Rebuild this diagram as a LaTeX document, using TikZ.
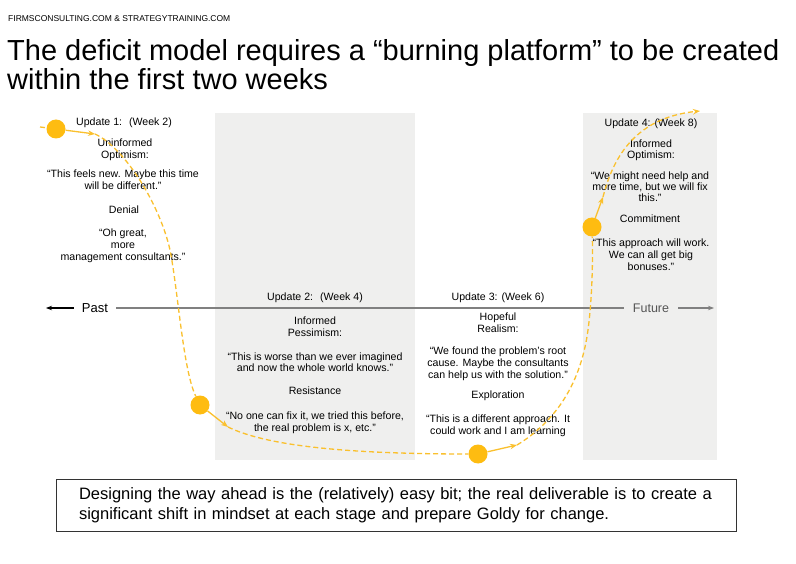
\documentclass[tikz,border=0pt]{standalone}
\usepackage{fontspec}
\setmainfont{Liberation Sans}
\usetikzlibrary{arrows.meta}
\definecolor{panel}{RGB}{239,239,238}
\definecolor{gold}{RGB}{254,188,17}
\definecolor{goldline}{RGB}{250,192,45}
\definecolor{axisgray}{RGB}{128,128,128}
\definecolor{futuregray}{RGB}{85,85,85}
\begin{document}
\begin{tikzpicture}[x=1pt,y=-1pt,
  body/.style={font=\fontsize{10.6}{12}\selectfont, align=center, anchor=base, inner sep=0pt},
  stage/.style={circle, fill=gold, minimum size=19pt, inner sep=0pt},
  dashseg/.style={goldline, line width=1.3pt, dash pattern=on 5pt off 3pt},
  arrowseg/.style={goldline, line width=1.3pt, -{Stealth[length=7pt,width=5.5pt]}},
  dasharrow/.style={dashseg, -{Stealth[length=7pt,width=5.5pt]}},
  axisline/.style={axisgray, line width=1.1pt},
  axisarrow/.style={axisline, -{Stealth[length=6pt,width=4.5pt]}},
  panelbox/.style={fill=panel, draw=none}]
\useasboundingbox (0,0) rectangle (796,564);
\fill[white] (0,0) rectangle (796,564);

% header and title
\node[anchor=base west, inner sep=0pt, font=\fontsize{8.5}{10}\selectfont] (hdr) at (8,22) {FIRMSCONSULTING.COM \& STRATEGYTRAINING.COM};
\node[anchor=base west, inner sep=0pt, align=left, font=\fontsize{29}{29}\selectfont] (title) at (7,90) {The deficit model requires a “burning platform” to be created\\within the first two weeks};

% panels
\fill[panelbox] (215,113) rectangle (415,460);
\fill[panelbox] (583,113) rectangle (717,460);

% axis
\node[inner sep=8pt, font=\fontsize{13}{13}\selectfont] (past) at (95,308) {Past};
\node[inner sep=9pt, font=\fontsize{12.5}{13}\selectfont, text=futuregray] (future) at (651,308) {Future};
\coordinate (leftend) at (46,308);
\coordinate (rightend) at (714,308);
\draw[axisarrow, black] (past) -- (leftend);
\draw[axisline] (past) -- (future);
\draw[axisarrow] (future) -- (rightend);

% Update 1 text
\node[body] (u1t) at (124,126) {Update 1:~ (Week 2)};
\node[body] (u1a) at (125,159) {Uninformed\\Optimism:};
\node[body] (u1b) at (123,190) {“This feels new. Maybe this time\\will be different.”};
\node[body] (u1c) at (124,214) {Denial};
\node[body] (u1d) at (123,261) {“Oh great,\\more\\management consultants.”};

% Update 2 text
\node[body] (u2t) at (315,301) {Update 2:~ (Week 4)};
\node[body] (u2a) at (315,337) {Informed\\Pessimism:};
\node[body] (u2b) at (315,372) {“This is worse than we ever imagined\\and now the whole world knows.”};
\node[body] (u2c) at (315,395) {Resistance};
\node[body] (u2d) at (315,431) {“No one can fix it, we tried this before,\\the real problem is x, etc.”};

% Update 3 text
\node[body] (u3t) at (498,301) {Update 3: (Week 6)};
\node[body] (u3a) at (498,333) {Hopeful\\Realism:};
\node[body] (u3b) at (498,378) {“We found the problem’s root\\cause. Maybe the consultants\\can help us with the solution.”};
\node[body] (u3c) at (498,399) {Exploration};
\node[body] (u3d) at (498,434) {“This is a different approach. It\\could work and I am learning};

% Update 4 text
\node[body] (u4t) at (651,127) {Update 4: (Week 8)};
\node[body, font=\fontsize{10.6}{11}\selectfont] (u4a) at (651,159) {Informed\\Optimism:};
\node[body, font=\fontsize{10.6}{11}\selectfont] (u4b) at (650,202) {“We might need help and\\more time, but we will fix\\this.”};
\node[body] (u4c) at (650,223) {Commitment};
\node[body] (u4d) at (651,271) {“This approach will work.\\We can all get big\\bonuses.”};

% curve
\node[stage] (c1) at (56,129) {};
\node[stage] (c2) at (200,405) {};
\node[stage] (c3) at (478,454) {};
\node[stage] (c4) at (592,227) {};
\coordinate (s0) at (40,127);
\coordinate (a1) at (95,134);
\coordinate (m1) at (170,250);
\coordinate (a2) at (228,427);
\coordinate (a3) at (517,445);
\coordinate (m3) at (588,330);
\coordinate (a4) at (603,197);
\coordinate (e4) at (700,111);

\draw[dashseg] (s0) -- (c1);
\draw[arrowseg] (c1) -- (a1);
\draw[dashseg] (a1) .. controls (125,148) and (160,205) .. (m1) .. controls (178,290) and (183,370) .. (c2);
\draw[arrowseg] (c2) -- (a2);
\draw[dashseg] (a2) .. controls (265,445) and (340,454) .. (c3);
\draw[arrowseg] (c3) -- (a3);
\draw[dashseg] (a3) .. controls (550,425) and (580,390) .. (m3) .. controls (592,300) and (593,262) .. (c4);
\draw[arrowseg] (c4) -- (a4);
\draw[dasharrow] (a4) .. controls (612,162) and (632,118) .. (e4);

% bottom box
\node[draw=black!80, line width=0.9pt, minimum width=680pt, minimum height=52pt, text width=634pt, inner xsep=23pt, align=left, font=\fontsize{16.5}{19.5}\selectfont] (note) at (396,505) {Designing the way ahead is the (relatively) easy bit; the real deliverable is to create a\\significant shift in mindset at each stage and prepare Goldy for change.};
\end{tikzpicture}
\end{document}
